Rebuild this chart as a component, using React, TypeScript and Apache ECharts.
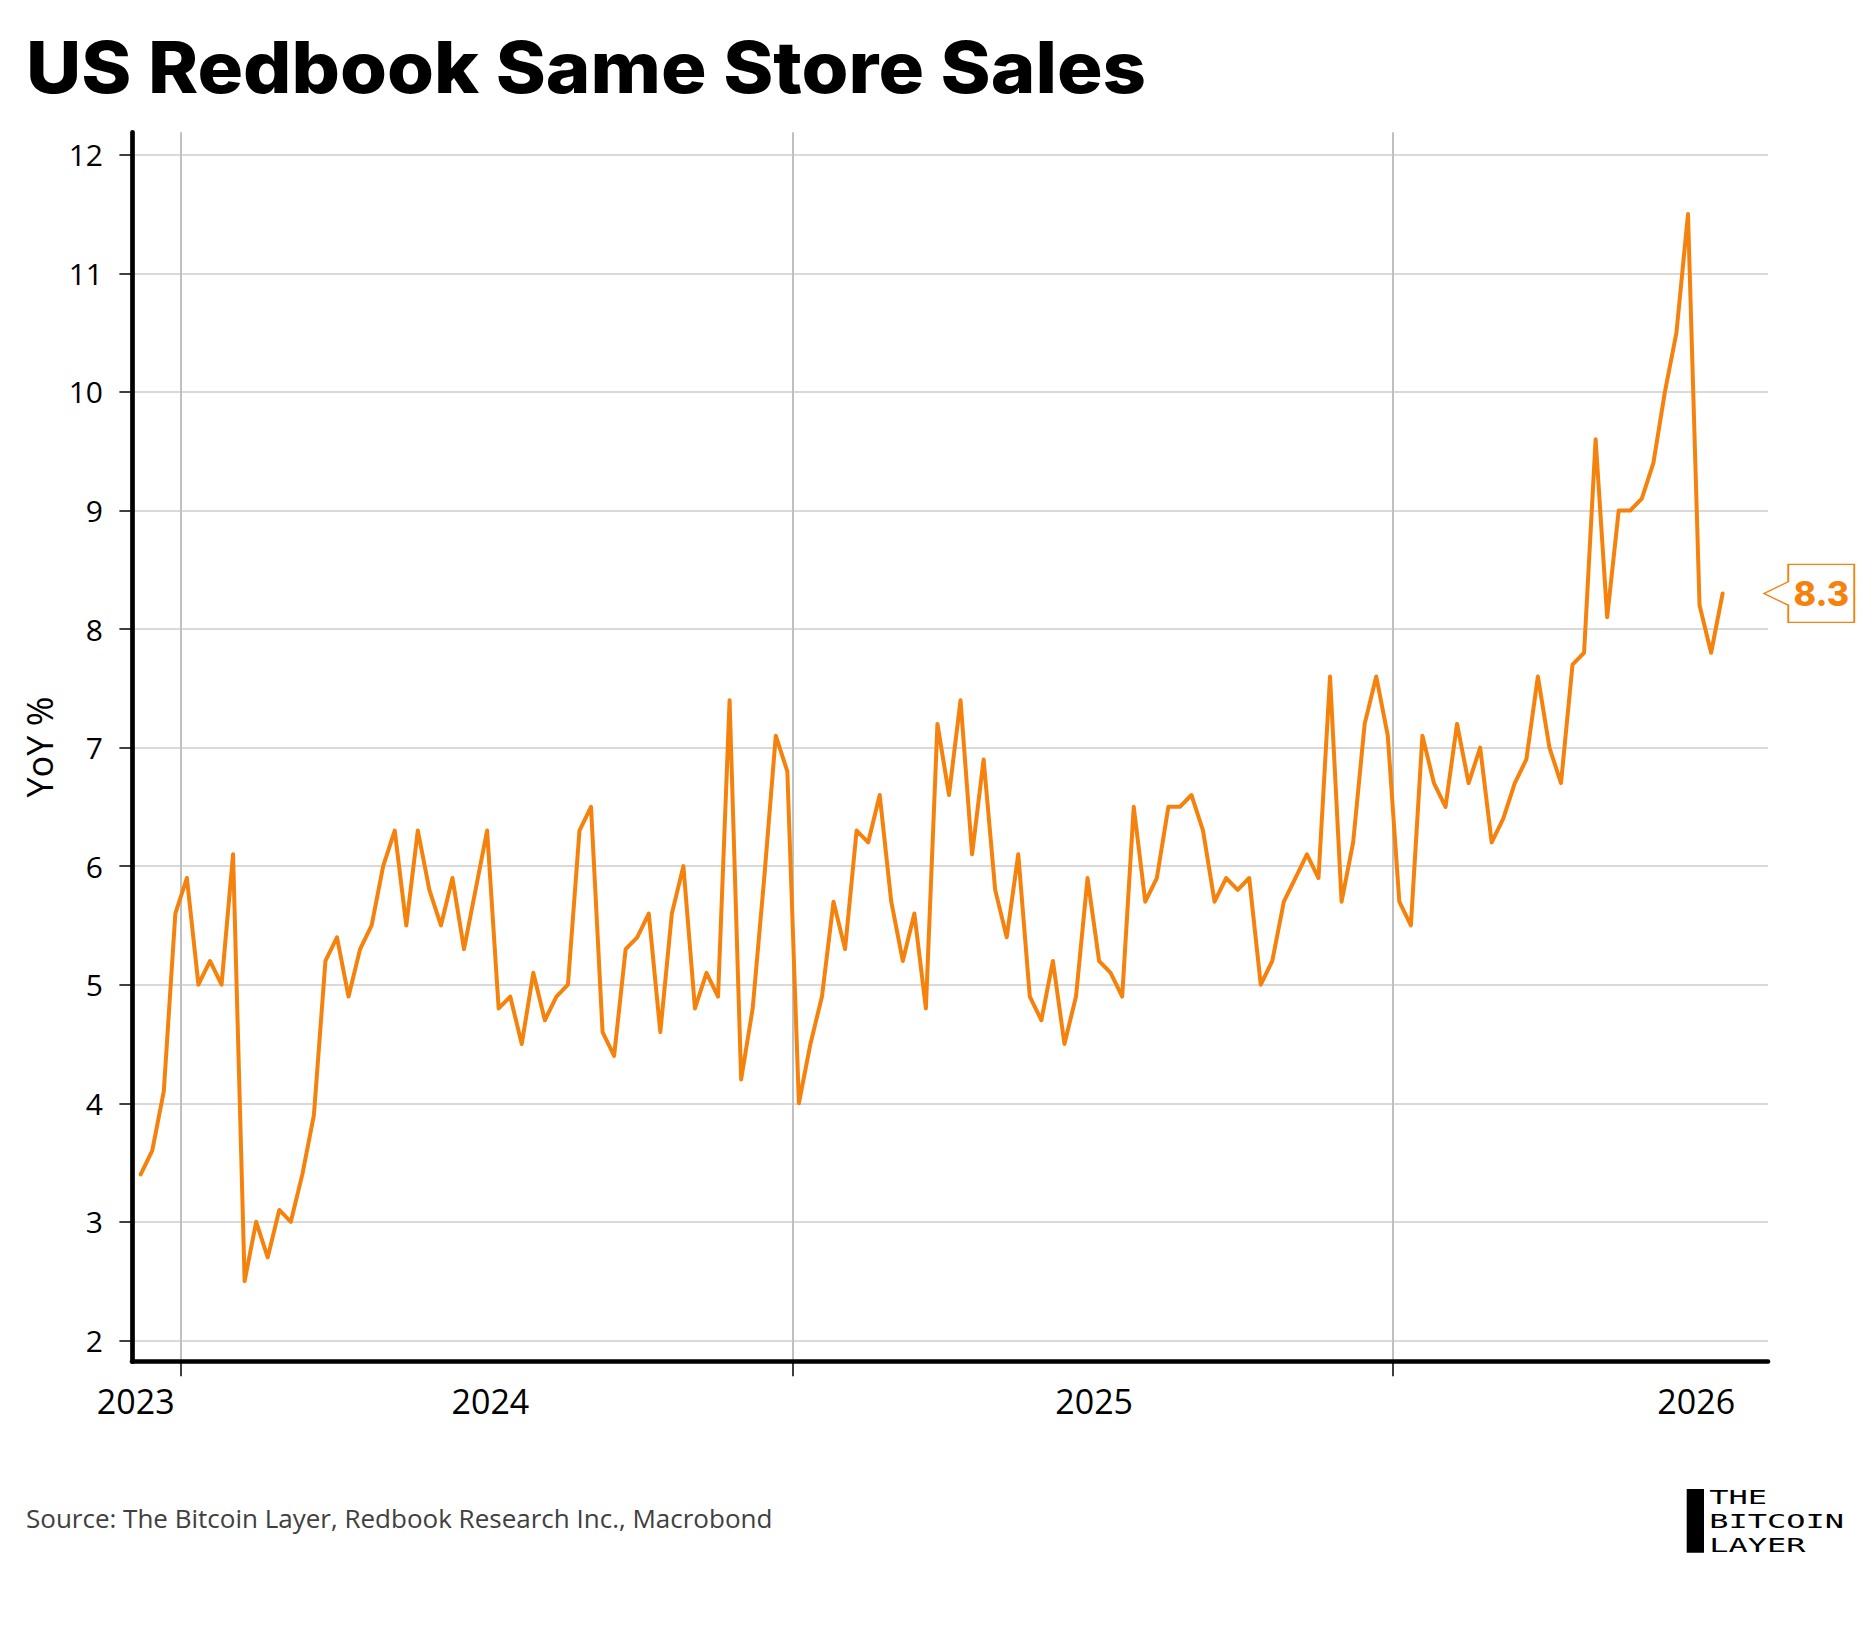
import React, { useEffect, useRef } from "react";
import * as echarts from "echarts";

const TITLE = "US Redbook Same Store Sales";
const SOURCE = "Source: The Bitcoin Layer, Redbook Research Inc., Macrobond";
const Y_NAME = "YoY %";
const LOGO_LINES = ["THE", "BITCOIN", "LAYER"];
const ORANGE = "#F5820D";

// weekly observations (week ending Saturday), first one:
const FIRST_WEEK = "2023-06-03";

// US Redbook same store sales, YoY %
const redbookYoY = [
  3.4, 3.6, 4.1, 5.6, 5.9, 5.0, 5.2, 5.0, 6.1, 2.5,
  3.0, 2.7, 3.1, 3.0, 3.4, 3.9, 5.2, 5.4, 4.9, 5.3,
  5.5, 6.0, 6.3, 5.5, 6.3, 5.8, 5.5, 5.9, 5.3, 5.8,
  6.3, 4.8, 4.9, 4.5, 5.1, 4.7, 4.9, 5.0, 6.3, 6.5,
  4.6, 4.4, 5.3, 5.4, 5.6, 4.6, 5.6, 6.0, 4.8, 5.1,
  4.9, 7.4, 4.2, 4.8, 5.9, 7.1, 6.8, 4.0, 4.5, 4.9,
  5.7, 5.3, 6.3, 6.2, 6.6, 5.7, 5.2, 5.6, 4.8, 7.2,
  6.6, 7.4, 6.1, 6.9, 5.8, 5.4, 6.1, 4.9, 4.7, 5.2,
  4.5, 4.9, 5.9, 5.2, 5.1, 4.9, 6.5, 5.7, 5.9, 6.5,
  6.5, 6.6, 6.3, 5.7, 5.9, 5.8, 5.9, 5.0, 5.2, 5.7,
  5.9, 6.1, 5.9, 7.6, 5.7, 6.2, 7.2, 7.6, 7.1, 5.7,
  5.5, 7.1, 6.7, 6.5, 7.2, 6.7, 7.0, 6.2, 6.4, 6.7,
  6.9, 7.6, 7.0, 6.7, 7.7, 7.8, 9.6, 8.1, 9.0, 9.0,
  9.1, 9.4, 10.0, 10.5, 11.5, 8.2, 7.8, 8.3,
];

// axis ticks / labels
const yTicks = [2, 3, 4, 5, 6, 7, 8, 9, 10, 11, 12];
const Y_MIN = 1.82;
const Y_MAX = 12.19;
const X_START = "2023-05-28T17:30:00Z";
const X_END = "2026-02-13T12:00:00Z";
const yearLabelDates = ["2023-05-31", "2024-01-01", "2025-01-01", "2026-01-01"];
const midYearLineDates = ["2023-06-27", "2024-07-02", "2025-07-01"];

const DAY = 86400000;
const toTs = (s: string) => (s.length <= 10 ? Date.parse(s + "T00:00:00Z") : Date.parse(s));

const TITLE_FONT = '800 71px "Inter"';
const TITLE_WIDTH = 1120;

function measure(text: string, font: string): number {
  const c = document.createElement("canvas");
  const ctx = c.getContext("2d");
  if (!ctx) return TITLE_WIDTH;
  ctx.font = font;
  return ctx.measureText(text).width || TITLE_WIDTH;
}

export default function App() {
  const ref = useRef<HTMLDivElement>(null);

  useEffect(() => {
    document.body.style.margin = "0";
    document.body.style.overflow = "hidden";
    if (!ref.current) return;
    const chart = echarts.init(ref.current, undefined, { renderer: "svg" });

    const t0 = toTs(FIRST_WEEK);
    const seriesData = redbookYoY.map((v, i) => [t0 + i * 7 * DAY, v]);
    const last = seriesData[seriesData.length - 1];
    const titleScale = Math.min(1.3, Math.max(0.8, TITLE_WIDTH / measure(TITLE, TITLE_FONT)));

    const option: any = {
      animation: false,
      backgroundColor: "#ffffff",
      grid: {
        left: 132,
        right: 107,
        top: 132.3,
        bottom: 1625 - 1361.7,
      },
      xAxis: {
        type: "value",
        min: toTs(X_START),
        max: toTs(X_END),
        axisLine: { show: true, onZero: false, lineStyle: { color: "#000000", width: 4.7 } },
        axisTick: {
          show: true,
          customValues: midYearLineDates.map(toTs),
          length: 14.5,
          lineStyle: { color: "#000000", width: 1.5 },
        },
        axisLabel: {
          show: true,
          customValues: yearLabelDates.map(toTs),
          formatter: (v: number) => String(new Date(v).getUTCFullYear()),
          fontFamily: "Open Sans",
          fontSize: 34,
          color: "#000000",
          margin: 22,
          hideOverlap: false,
        },
        splitLine: { show: true, lineStyle: { color: "#c0c0c0", width: 2 } },
      },
      yAxis: {
        type: "value",
        min: Y_MIN,
        max: Y_MAX,
        name: Y_NAME,
        nameLocation: "middle",
        nameGap: 68,
        nameTextStyle: { fontFamily: "Open Sans", fontSize: 36, color: "#000000" },
        axisLine: { show: true, lineStyle: { color: "#000000", width: 4.7 } },
        axisTick: {
          show: true,
          customValues: yTicks,
          length: 12.6,
          lineStyle: { color: "#000000", width: 1.5 },
        },
        axisLabel: {
          show: true,
          customValues: yTicks,
          fontFamily: "Open Sans",
          fontSize: 30,
          color: "#000000",
          margin: 29,
        },
        splitLine: { show: true, lineStyle: { color: "#cccccc", width: 1.5 } },
      },
      series: [
        {
          type: "line",
          data: seriesData,
          showSymbol: false,
          symbol: "none",
          silent: true,
          clip: false,
          lineStyle: { color: ORANGE, width: 4, join: "round", cap: "round" },
          markPoint: {
            silent: true,
            symbol: "path://M24.3,0 L90.3,0 L90.3,58 L24.3,58 L24.3,40.7 L0,29 L24.3,17.3 Z",
            symbolSize: [90.3, 58],
            symbolOffset: [86.45, 0],
            itemStyle: { color: "#ffffff", borderColor: ORANGE, borderWidth: 1.5 },
            label: {
              show: true,
              position: "inside",
              offset: [12.15, 0],
              formatter: (p: any) => String(p.value),
              color: ORANGE,
              fontFamily: "Inter",
              fontWeight: 800,
              fontSize: 34,
            },
            data: [{ coord: [last[0], last[1]], value: last[1] }],
          },
        },
      ],
      graphic: [
        {
          type: "text",
          x: 26,
          y: 67.2,
          scaleX: titleScale,
          style: {
            text: TITLE,
            font: TITLE_FONT,
            fill: "#000000",
            textVerticalAlign: "middle",
            verticalAlign: "middle",
          },
        },
        {
          type: "text",
          x: 26,
          y: 1518,
          style: {
            text: SOURCE,
            font: '26px "Open Sans"',
            fill: "#404040",
            textVerticalAlign: "middle",
            verticalAlign: "middle",
          },
        },
        {
          type: "rect",
          shape: { x: 1686.7, y: 1489, width: 17.3, height: 63.7 },
          style: { fill: "#000000" },
        },
        {
          type: "text",
          x: 1709.3,
          y: 1484.5,
          scaleX: 1.6,
          style: {
            text: LOGO_LINES.join("\n"),
            font: '20px "DejaVu Sans Mono"',
            fill: "#000000",
            lineHeight: 24.3,
            textVerticalAlign: "top",
            verticalAlign: "top",
          },
        },
      ],
    };

    chart.setOption(option);
    return () => {
      chart.dispose();
    };
  }, []);

  return <div ref={ref} style={{ width: 1875, height: 1625 }} />;
}
